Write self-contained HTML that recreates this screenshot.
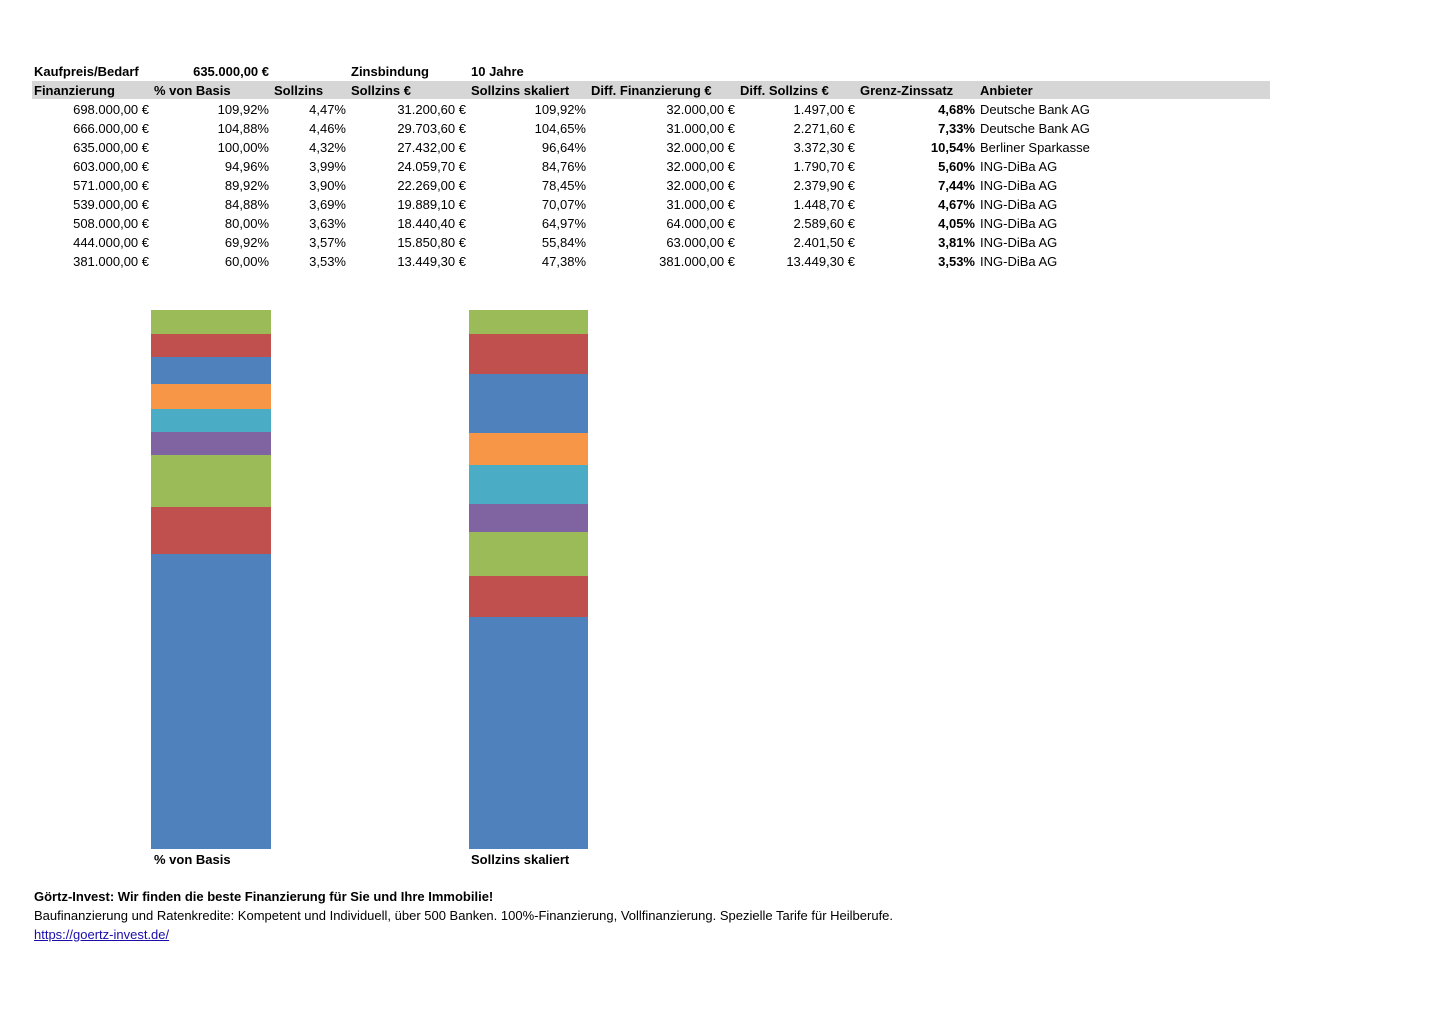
<!DOCTYPE html>
<html><head><meta charset="utf-8"><style>
body{margin:0;background:#fff;width:1440px;height:1018px;position:relative;overflow:hidden;font-family:"Liberation Sans",sans-serif;font-size:13px;color:#000}
.c{position:absolute;white-space:nowrap;line-height:19px}
.r{text-align:right}
.b{font-weight:bold}
.band{position:absolute;left:32px;top:81px;width:1238px;height:18px;background:#d6d6d6}
</style></head><body>
<div class="band"></div>
<div class="c b" style="left:34px;top:62px">Kaufpreis/Bedarf</div>
<div class="c b r" style="right:1171px;top:62px">635.000,00 €</div>
<div class="c b" style="left:351px;top:62px">Zinsbindung</div>
<div class="c b" style="left:471px;top:62px">10 Jahre</div>

<div class="c b" style="left:34px;top:81px">Finanzierung</div>
<div class="c b" style="left:154px;top:81px">% von Basis</div>
<div class="c b" style="left:274px;top:81px">Sollzins</div>
<div class="c b" style="left:351px;top:81px">Sollzins €</div>
<div class="c b" style="left:471px;top:81px">Sollzins skaliert</div>
<div class="c b" style="left:591px;top:81px">Diff. Finanzierung €</div>
<div class="c b" style="left:740px;top:81px">Diff. Sollzins €</div>
<div class="c b" style="left:860px;top:81px">Grenz-Zinssatz</div>
<div class="c b" style="left:980px;top:81px">Anbieter</div>

<div id="rows"></div>
<script>
var d=[
["698.000,00 €","109,92%","4,47%","31.200,60 €","109,92%","32.000,00 €","1.497,00 €","4,68%","Deutsche Bank AG"],
["666.000,00 €","104,88%","4,46%","29.703,60 €","104,65%","31.000,00 €","2.271,60 €","7,33%","Deutsche Bank AG"],
["635.000,00 €","100,00%","4,32%","27.432,00 €","96,64%","32.000,00 €","3.372,30 €","10,54%","Berliner Sparkasse"],
["603.000,00 €","94,96%","3,99%","24.059,70 €","84,76%","32.000,00 €","1.790,70 €","5,60%","ING-DiBa AG"],
["571.000,00 €","89,92%","3,90%","22.269,00 €","78,45%","32.000,00 €","2.379,90 €","7,44%","ING-DiBa AG"],
["539.000,00 €","84,88%","3,69%","19.889,10 €","70,07%","31.000,00 €","1.448,70 €","4,67%","ING-DiBa AG"],
["508.000,00 €","80,00%","3,63%","18.440,40 €","64,97%","64.000,00 €","2.589,60 €","4,05%","ING-DiBa AG"],
["444.000,00 €","69,92%","3,57%","15.850,80 €","55,84%","63.000,00 €","2.401,50 €","3,81%","ING-DiBa AG"],
["381.000,00 €","60,00%","3,53%","13.449,30 €","47,38%","381.000,00 €","13.449,30 €","3,53%","ING-DiBa AG"]];
var R=[149,269,346,466,586,735,855,975];
var h="";
d.forEach(function(r,i){var t=100+i*19;
for(var j=0;j<8;j++)h+='<div class="c r'+(j==7?' b':'')+'" style="right:'+(1440-R[j])+'px;top:'+t+'px">'+r[j]+'</div>';
h+='<div class="c" style="left:980px;top:'+t+'px">'+r[8]+'</div>';});
document.getElementById("rows").innerHTML=h;
</script>

<svg style="position:absolute;left:0;top:0" width="1440" height="1018">
<g>
<rect x="151" y="310" width="120" height="24" fill="#9BBB59"/>
<rect x="151" y="334" width="120" height="23" fill="#C0504D"/>
<rect x="151" y="357" width="120" height="27" fill="#4F81BD"/>
<rect x="151" y="384" width="120" height="25" fill="#F79646"/>
<rect x="151" y="409" width="120" height="23" fill="#4BACC6"/>
<rect x="151" y="432" width="120" height="23" fill="#8064A2"/>
<rect x="151" y="455" width="120" height="52" fill="#9BBB59"/>
<rect x="151" y="507" width="120" height="47" fill="#C0504D"/>
<rect x="151" y="554" width="120" height="295" fill="#4F81BD"/>
</g>
<g>
<rect x="469" y="310" width="119" height="24" fill="#9BBB59"/>
<rect x="469" y="334" width="119" height="40" fill="#C0504D"/>
<rect x="469" y="374" width="119" height="59" fill="#4F81BD"/>
<rect x="469" y="433" width="119" height="32" fill="#F79646"/>
<rect x="469" y="465" width="119" height="39" fill="#4BACC6"/>
<rect x="469" y="504" width="119" height="28" fill="#8064A2"/>
<rect x="469" y="532" width="119" height="44" fill="#9BBB59"/>
<rect x="469" y="576" width="119" height="41" fill="#C0504D"/>
<rect x="469" y="617" width="119" height="232" fill="#4F81BD"/>
</g>
</svg>
<div class="c b" style="left:154px;top:850px">% von Basis</div>
<div class="c b" style="left:471px;top:850px">Sollzins skaliert</div>

<div class="c b" style="left:34px;top:887px">Görtz-Invest: Wir finden die beste Finanzierung für Sie und Ihre Immobilie!</div>
<div class="c" style="left:34px;top:906px">Baufinanzierung und Ratenkredite: Kompetent und Individuell, über 500 Banken. 100%-Finanzierung, Vollfinanzierung. Spezielle Tarife für Heilberufe.</div>
<div class="c" style="left:34px;top:925px;color:#1a0dab;text-decoration:underline">https://goertz-invest.de/</div>
</body></html>
